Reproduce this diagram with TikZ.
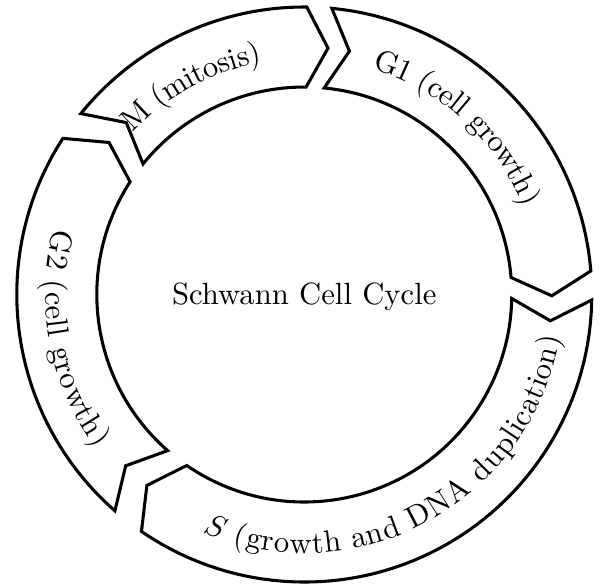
\documentclass[tikz,border=0pt]{standalone}
\usetikzlibrary{decorations.text}

\tikzset{
  phase/.style={draw, line width=1pt, line join=miter},
  phaselabel/.style={decorate, decoration={text along path, text={#1},
      text align=center, raise=-3.75pt}}
}

\begin{document}
\begin{tikzpicture}
   \useasboundingbox (-99.11pt,-94.62pt) rectangle (96.96pt,95.92pt);

   \draw[phase]
   (141:93.64pt) arc[start angle=141, end angle=89.5, radius=93.64pt] --
   (84.5:80.61pt) -- (89.5:67.58pt)
   arc[start angle=89.5, end angle=141, radius=67.58pt] --
   (136:80.61pt) -- cycle;
   \draw[phase]
   (84.5:93.64pt) arc[start angle=84.5, end angle=4.7, radius=93.64pt] --
   (-0.3:80.61pt) -- (4.7:67.58pt)
   arc[start angle=4.7, end angle=84.5, radius=67.58pt] --
   (79.5:80.61pt) -- cycle;
   \draw[phase]
   (-1.1:93.64pt) arc[start angle=-1.1, end angle=-124.5, radius=93.64pt] --
   (-129.5:80.61pt) -- (-124.5:67.58pt)
   arc[start angle=-124.5, end angle=-1.1, radius=67.58pt] --
   (-6.1:80.61pt) -- cycle;
   \draw[phase]
   (228.8:93.64pt) arc[start angle=228.8, end angle=147.1, radius=93.64pt] --
   (142.1:80.61pt) -- (147.1:67.58pt)
   arc[start angle=147.1, end angle=228.8, radius=67.58pt] --
   (223.8:80.61pt) -- cycle;

   \path[phaselabel={M (mitosis)}]
   (148.5:80.61pt) arc[start angle=148.5, end angle=88.5, radius=80.61pt];
   \path[phaselabel={G1 (cell growth)}]
   (87.5:80.61pt) arc[start angle=87.5, end angle=7.5, radius=80.61pt];
   \path[phaselabel={{$S$} (growth and DNA duplication)}]
   (-121.3:80.61pt) arc[start angle=-121.3, end angle=-1.3, radius=80.61pt];
   \path[phaselabel={G2 (cell growth)}]
   (150.9:80.61pt) arc[start angle=150.9, end angle=230.9, radius=80.61pt];

   \node (cycle) at (0,-0.8pt) {Schwann Cell Cycle};
\end{tikzpicture}
\end{document}
